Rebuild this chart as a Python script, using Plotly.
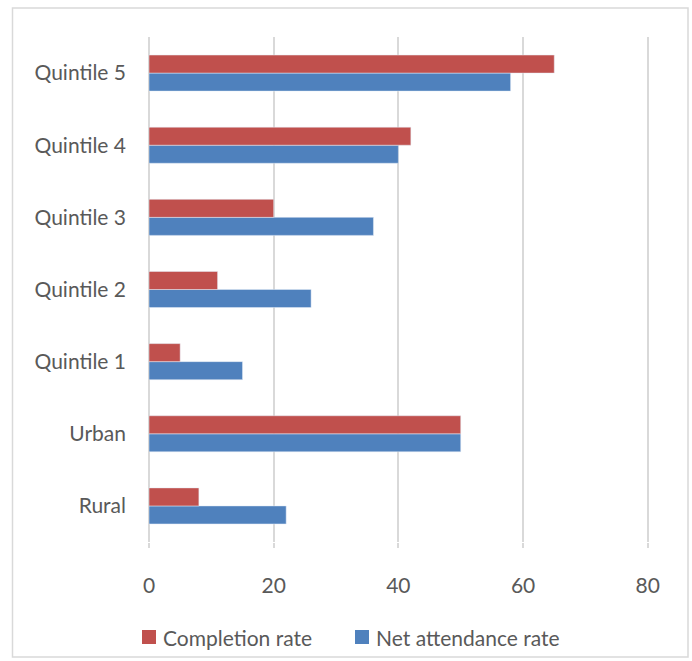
import plotly.graph_objects as go

categories = ["Rural", "Urban", "Quintile 1", "Quintile 2", "Quintile 3", "Quintile 4", "Quintile 5"]
completion_rate = [8, 50, 5, 11, 20, 42, 65]
net_attendance_rate = [22, 50, 15, 26, 36, 40, 58]
x_ticks = [0, 20, 40, 60, 80]
series_names = ["Completion rate", "Net attendance rate"]
series_colors = ["#C0504D", "#4F81BD"]

FONT = "Lato, 'Open Sans', sans-serif"
GREY = "#595959"
GRID = "#d9d9d9"

fig = go.Figure()
fig.add_trace(go.Bar(
    y=categories, x=net_attendance_rate, orientation="h",
    name=series_names[1], marker=dict(color=series_colors[1]),
))
fig.add_trace(go.Bar(
    y=categories, x=completion_rate, orientation="h",
    name=series_names[0], marker=dict(color=series_colors[0]),
))

W, H = 692, 661
L, R, T, B = 149, 38, 37, 119
pw, ph = W - L - R, H - T - B

def px_x(v):
    return (v - L) / pw

def px_y(v):
    return (H - B - v) / ph

# legend drawn as shapes + text, placed like the original
legend_left = [142, 355]
legend_y = 637
shapes = [dict(type="rect", xref="paper", yref="paper",
               x0=px_x(12.5), x1=px_x(688), y0=px_y(657), y1=px_y(8),
               line=dict(color=GRID, width=1.5), fillcolor="rgba(0,0,0,0)", layer="below")]
annotations = []
for name, color, lx in zip(series_names, series_colors, legend_left):
    shapes.append(dict(type="rect", xref="paper", yref="paper",
                       x0=px_x(lx), x1=px_x(lx + 14), y0=px_y(legend_y + 7), y1=px_y(legend_y - 7),
                       line=dict(width=0), fillcolor=color))
    annotations.append(dict(text=name, xref="paper", yref="paper", x=px_x(lx + 19), y=px_y(legend_y),
                            xanchor="left", yanchor="middle", showarrow=False,
                            font=dict(size=21, color=GREY, family=FONT)))

fig.update_layout(
    width=W, height=H,
    margin=dict(l=L, r=R, t=T, b=B),
    barmode="group", bargap=0.5, bargroupgap=0,
    plot_bgcolor="white", paper_bgcolor="white",
    font=dict(family=FONT, size=21, color=GREY),
    showlegend=False,
    xaxis=dict(range=[0, 81], tickvals=x_ticks, showgrid=True, gridcolor=GRID, gridwidth=1.5,
               zeroline=True, zerolinecolor=GRID, zerolinewidth=1.5, showline=False,
               ticks="outside", ticklen=5, tickcolor=GRID, tickwidth=1.5,
               ticklabelstandoff=20, tickfont=dict(size=21, color=GREY)),
    yaxis=dict(type="category", categoryorder="array", categoryarray=categories,
               showgrid=False, ticks="", ticklabelstandoff=22, tickfont=dict(size=21, color=GREY)),
    shapes=shapes,
    annotations=annotations,
)

fig.write_html("out.html")
